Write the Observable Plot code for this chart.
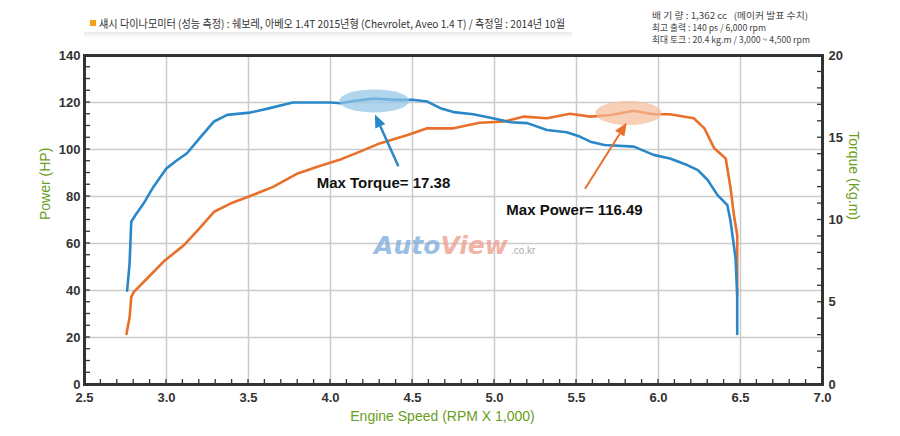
<!DOCTYPE html>
<html><head><meta charset="utf-8">
<script src="https://cdn.jsdelivr.net/npm/d3@7"></script>
<script src="https://cdn.jsdelivr.net/npm/@observablehq/plot@0.6"></script>
<style>
body{margin:0;background:#fff;width:900px;height:436px;overflow:hidden;font-family:"Liberation Sans",sans-serif}
#hdr{position:relative;height:45px;width:900px}
.t{position:absolute;white-space:nowrap;transform-origin:0 50%}
</style></head><body>
<div id="hdr">
 <div style="position:absolute;left:84px;top:32px;width:488px;height:6px;background:linear-gradient(#e9e9e9,#fff)"></div>
 <div style="position:absolute;left:90px;top:20px;width:6px;height:6px;background:#f5a21b"></div>
 <div class="t fit" data-w="466" style="left:99px;top:16px;font-size:11px;font-family:'Noto Sans CJK KR';color:#333;line-height:14px">섀시 다이나모미터 (성능 측정) :  쉐보레, 아베오 1.4T 2015년형 (Chevrolet, Aveo 1.4 T) / 측정일 : 2014년 10월</div>
 <div class="t fit" data-w="156" style="left:652px;top:10px;font-size:9px;font-family:'Noto Sans CJK KR';color:#444;line-height:12px">배 기 량 : 1,362 cc &nbsp; (메이커 발표 수치)</div>
 <div class="t fit" data-w="114" style="left:652px;top:22px;font-size:9px;font-family:'Noto Sans CJK KR';color:#444;line-height:12px">최고 출력 : 140 ps / 6,000 rpm</div>
 <div class="t fit" data-w="158" style="left:652px;top:34px;font-size:9px;font-family:'Noto Sans CJK KR';color:#444;line-height:12px">최대 토크 : 20.4 kg.m / 3,000 ~ 4,500 rpm</div>
</div>
<div id="chart"></div>
<script>
// ---- data ----
const rpmPower = [2.756, 2.775, 2.785, 2.80, 2.88, 2.99, 3.105, 3.19, 3.29, 3.39, 3.51, 3.65, 3.80, 3.92, 4.07, 4.18, 4.30, 4.47, 4.59, 4.75, 4.91, 5.06, 5.18, 5.32, 5.46, 5.585, 5.71, 5.85, 5.97, 6.07, 6.215, 6.28, 6.34, 6.41, 6.44, 6.46, 6.48, 6.48];
const powerHP = [21.5, 28.6, 37.2, 39.3, 45, 52.8, 59.2, 65.6, 73.5, 77, 80.2, 84.1, 89.8, 92.7, 96, 99.1, 102.6, 106.2, 109, 109, 111.4, 111.9, 114, 113.3, 115.2, 114, 114.7, 116.49, 115, 115, 113.3, 109, 100.5, 96.2, 83.4, 72, 63.5, 37.9];
const rpmTorque = [2.76, 2.775, 2.785, 2.81, 2.86, 2.92, 3.0, 3.06, 3.125, 3.21, 3.29, 3.37, 3.51, 3.63, 3.77, 4.0, 4.06, 4.15, 4.26, 4.4, 4.51, 4.59, 4.67, 4.75, 4.87, 4.99, 5.1, 5.2, 5.32, 5.44, 5.52, 5.585, 5.67, 5.85, 5.97, 6.07, 6.175, 6.24, 6.3, 6.36, 6.42, 6.44, 6.47, 6.48, 6.48];
const torqueKgm = [5.71, 7.36, 9.89, 10.29, 11.0, 12.01, 13.14, 13.6, 14.06, 15.07, 15.99, 16.39, 16.53, 16.8, 17.14, 17.14, 17.1, 17.25, 17.38, 17.3, 17.3, 17.2, 16.8, 16.56, 16.43, 16.19, 15.94, 15.89, 15.47, 15.33, 15.07, 14.76, 14.56, 14.46, 13.96, 13.74, 13.34, 13.03, 12.43, 11.51, 10.9, 9.89, 7.66, 5.41, 3.07];
const xTicks = [2.5, 3.0, 3.5, 4.0, 4.5, 5.0, 5.5, 6.0, 6.5, 7.0];
const powerTicks = [0, 20, 40, 60, 80, 100, 120, 140];
const torqueTicks = [0, 5, 10, 15, 20];
const maxTorque = {rpm: 4.27, value: 17.38, label: "Max Torque= 17.38"};
const maxPower = {rpm: 5.82, value: 116.49, label: "Max Power= 116.49"};
const torqueArrow = {x1: 4.417, y1: 92.7, x2: 4.274, y2: 114.7};
const powerArrow = {x1: 5.555, y1: 83.1, x2: 5.809, y2: 111.2};
const torqueLabelPos = {rpm: 4.323, power: 85.7};
const powerLabelPos = {rpm: 5.488, power: 74.2};

// ---- fit header text widths ----
document.querySelectorAll(".fit").forEach(el => {
  const w = el.getBoundingClientRect().width;
  el.style.transform = `scaleX(${(+el.dataset.w) / w})`;
});

const BLUE = "#2a87c8", ORANGE = "#e8702a", GREEN = "#6a9e22", GRID = "#cbcbcb";
const k = powerTicks[powerTicks.length - 1] / torqueTicks[torqueTicks.length - 1]; // torque -> power axis ratio
const powerData = rpmPower.map((r, i) => ({rpm: r, v: powerHP[i]}));
const torqueData = rpmTorque.map((r, i) => ({rpm: r, v: torqueKgm[i]}));
const NS = "http://www.w3.org/2000/svg";

const W = 900, H = 391, MT = 10, ML = 84, MR = 78, MB = 52;

const ellipseMark = (cx, cy, rx, ry, fill, op) => (index, {x, y}) => {
  const e = document.createElementNS(NS, "ellipse");
  e.setAttribute("cx", x(cx)); e.setAttribute("cy", y(cy));
  e.setAttribute("rx", rx); e.setAttribute("ry", ry);
  e.setAttribute("fill", fill); e.setAttribute("fill-opacity", op);
  return e;
};
const arrowMark = (a, color, w) => (index, {x, y}) => {
  const x1 = x(a.x1), y1 = y(a.y1), x2 = x(a.x2), y2 = y(a.y2);
  const ang = Math.atan2(y2 - y1, x2 - x1), L = 13, Hh = 5.5;
  const bx = x2 - L * Math.cos(ang), by = y2 - L * Math.sin(ang);
  const g = document.createElementNS(NS, "g");
  const l = document.createElementNS(NS, "line");
  l.setAttribute("x1", x1); l.setAttribute("y1", y1); l.setAttribute("x2", bx); l.setAttribute("y2", by);
  l.setAttribute("stroke", color); l.setAttribute("stroke-width", w);
  const p = document.createElementNS(NS, "polygon");
  p.setAttribute("points", `${x2},${y2} ${bx + Hh * Math.sin(ang)},${by - Hh * Math.cos(ang)} ${bx - Hh * Math.sin(ang)},${by + Hh * Math.cos(ang)}`);
  p.setAttribute("fill", color);
  g.append(l, p);
  return g;
};
// inward minor ticks along the frame edges, positioned through the scales
const minorTicks = (xs, ysLeft, ysRight) => (index, {x, y}) => {
  const g = document.createElementNS(NS, "g");
  g.setAttribute("stroke", "#333"); g.setAttribute("stroke-width", 1.3);
  const yb = y(0), xl = x(2.5), xr = x(7);
  const add = (a, b, c, d) => { const l = document.createElementNS(NS, "line"); l.setAttribute("x1", a); l.setAttribute("y1", b); l.setAttribute("x2", c); l.setAttribute("y2", d); g.append(l); };
  xs.forEach(v => add(x(v), yb, x(v), yb - 5));
  ysLeft.forEach(v => add(xl, y(v), xl + 6, y(v)));
  ysRight.forEach(v => add(xr, y(v), xr - 5, y(v)));
  return g;
};

const tickFont = {fontFamily: "'Liberation Sans Narrow','Liberation Sans',sans-serif", fontSize: 13, fontWeight: "bold", fill: "#333"};
const wmFont = {fontFamily: "'DejaVu Sans'", fontWeight: "bold", fontStyle: "italic", fontSize: 25, lineAnchor: "bottom"};

const chart = Plot.plot({
  width: W, height: H,
  marginTop: MT, marginLeft: ML, marginRight: MR, marginBottom: MB,
  x: {domain: [2.5, 7]},
  y: {domain: [0, 140]},
  style: {background: "transparent", fontFamily: "'Liberation Sans',sans-serif"},
  marks: [
    Plot.gridX(xTicks.slice(1, -1), {stroke: GRID, strokeOpacity: 1, strokeWidth: 1.5}),
    Plot.gridY(powerTicks.slice(1, -1), {stroke: GRID, strokeOpacity: 1, strokeWidth: 1.5}),
    Plot.text(["Auto"], {x: 4.67, y: 55.5, textAnchor: "end", fill: "#7eaedb", fillOpacity: 0.8, ...wmFont}),
    Plot.text(["View"], {x: 4.67, y: 55.5, textAnchor: "start", fill: "#f0a597", fillOpacity: 0.85, ...wmFont}),
    Plot.text([".co.kr"], {x: 5.1, y: 55.5, textAnchor: "start", lineAnchor: "bottom", fontSize: 10, fill: "#aaa"}),
    Plot.line(powerData, {x: "rpm", y: "v", stroke: ORANGE, strokeWidth: 2.6}),
    Plot.line(torqueData, {x: "rpm", y: d => d.v * k, stroke: BLUE, strokeWidth: 2.6}),
    ellipseMark(maxTorque.rpm, maxTorque.value * k - 1.2, 35, 11.5, "#8fc3e6", 0.7),
    ellipseMark(maxPower.rpm, maxPower.value - 1.2, 33, 12, "#f5bb98", 0.7),
    arrowMark(torqueArrow, BLUE, 2.5),
    arrowMark(powerArrow, ORANGE, 2),
    Plot.text([maxTorque.label], {x: torqueLabelPos.rpm, y: torqueLabelPos.power, fontSize: 15, fontWeight: "bold", fill: "#111"}),
    Plot.text([maxPower.label], {x: powerLabelPos.rpm, y: powerLabelPos.power, fontSize: 15, fontWeight: "bold", fill: "#111"}),
    minorTicks(d3.range(26, 70).map(d => d / 10), d3.range(5, 140, 5), d3.range(1, 20).map(t => t * k)),
    // tick labels
    Plot.axisX(xTicks, {anchor: "bottom", tickSize: 0, tickPadding: 8, tickFormat: d3.format(".1f"), label: null, ...tickFont}),
    Plot.axisY(powerTicks, {anchor: "left", tickSize: 0, tickPadding: 4, label: null, ...tickFont}),
    Plot.axisY(torqueTicks.map(t => t * k), {anchor: "right", tickSize: 0, tickPadding: 6, tickFormat: d => Math.round(d / k), label: null, ...tickFont}),
    Plot.frame({stroke: "#333", strokeWidth: 3}),
    // axis titles
    Plot.text(["Power (HP)"], {frameAnchor: "left", dx: -39, rotate: -90, fontSize: 14, fill: GREEN}),
    Plot.text(["Torque (Kg.m)"], {frameAnchor: "right", dx: 31, rotate: 90, fontSize: 14, fill: GREEN}),
    Plot.text(["Engine Speed (RPM X 1,000)"], {frameAnchor: "bottom", dx: -11, dy: 36, fontSize: 14, fill: GREEN})
  ]
});
document.getElementById("chart").append(chart);
</script>
</body></html>
